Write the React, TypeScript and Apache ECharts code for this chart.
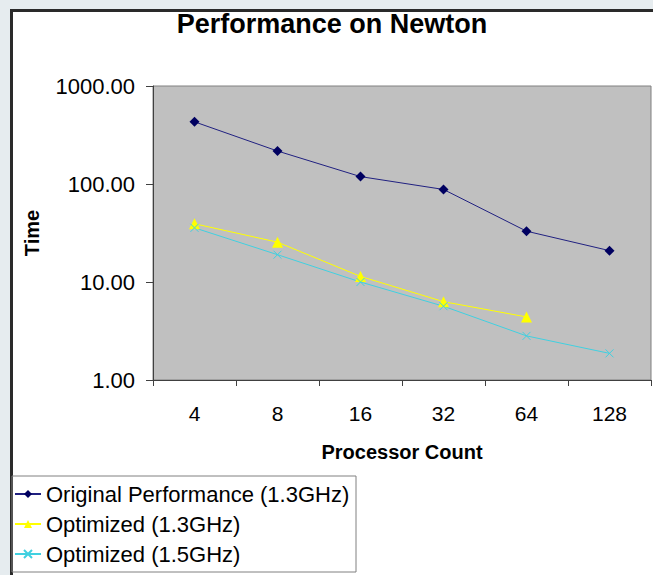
import React, { useEffect, useRef } from "react";
import * as echarts from "echarts";

const categories = ["4", "8", "16", "32", "64", "128"];
const originalPerf = [431, 217, 119, 88, 33, 20.9];
const optimized13 = [39.3, 25.5, 11.4, 6.3, 4.4, null];
const optimized15 = [35.7, 19.0, 10.0, 5.66, 2.82, 1.87];
const seriesNames = [
  "Original Performance (1.3GHz)",
  "Optimized (1.3GHz)",
  "Optimized (1.5GHz)",
];

const FONT = "'Liberation Sans', Arial, sans-serif";

export default function App() {
  const ref = useRef<HTMLDivElement>(null);
  useEffect(() => {
    if (!ref.current) return;
    const chart = echarts.init(ref.current, null, { renderer: "svg" });
    chart.setOption({
      animation: false,
      backgroundColor: "transparent",
      textStyle: { fontFamily: FONT },
      title: {
        text: "Performance on Newton",
        left: 332,
        top: 10,
        textAlign: "center",
        padding: 0,
        textStyle: { fontFamily: FONT, fontSize: 27, fontWeight: "bold", color: "#000" },
      },
      grid: {
        left: 153,
        right: 2,
        top: 86,
        bottom: 195,
        show: true,
        backgroundColor: "#c0c0c0",
        borderColor: "#808080",
        borderWidth: 1,
      },
      xAxis: {
        type: "category",
        data: categories,
        boundaryGap: true,
        name: "Processor Count",
        nameLocation: "middle",
        nameGap: 62,
        nameTextStyle: { fontFamily: FONT, fontSize: 20, fontWeight: "bold", color: "#000" },
        axisLine: { lineStyle: { color: "#404040", width: 1 } },
        axisTick: { show: true, length: 6, alignWithLabel: false, lineStyle: { color: "#404040" } },
        axisLabel: { fontFamily: FONT, fontSize: 21, color: "#000", margin: 23 },
        splitLine: { show: false },
      },
      yAxis: {
        type: "log",
        logBase: 10,
        min: 1,
        max: 1000,
        name: "Time",
        nameLocation: "middle",
        nameGap: 111,
        nameRotate: 90,
        nameTextStyle: { fontFamily: FONT, fontSize: 20, fontWeight: "bold", color: "#000" },
        axisLine: { show: true, lineStyle: { color: "#404040", width: 1 } },
        axisTick: { show: true, length: 7, lineStyle: { color: "#404040" } },
        minorTick: { show: false },
        axisLabel: {
          fontFamily: FONT,
          fontSize: 22,
          color: "#000",
          margin: 18,
          formatter: (v: number) => v.toFixed(2),
        },
        splitLine: { show: false },
      },
      legend: {
        orient: "vertical",
        left: 14,
        top: 482,
        padding: 0,
        itemGap: 6,
        itemWidth: 26,
        itemHeight: 10,
        textStyle: { fontFamily: FONT, fontSize: 22, color: "#000", lineHeight: 24 },
        data: seriesNames,
      },
      graphic: [
        {
          type: "rect",
          shape: { x: 12, y: 476, width: 344, height: 96 },
          style: { fill: "none", stroke: "#808080", lineWidth: 1 },
          z: -1,
        },
      ],
      series: [
        {
          name: seriesNames[0],
          type: "line",
          data: originalPerf,
          symbol: "diamond",
          symbolSize: 10,
          color: "#000080",
          lineStyle: { color: "#202080", width: 1 },
          itemStyle: { color: "#000060" },
        },
        {
          name: seriesNames[1],
          type: "line",
          data: optimized13,
          symbol: "triangle",
          symbolSize: 11,
          color: "#ffff00",
          lineStyle: { color: "#ffff00", width: 1 },
          itemStyle: { color: "#ffff00" },
        },
        {
          name: seriesNames[2],
          type: "line",
          data: optimized15,
          symbol: "path://M0,0L10,10M10,0L0,10",
          symbolSize: 8,
          color: "#40d0e0",
          lineStyle: { color: "#40d0e0", width: 1 },
          itemStyle: { color: "none", borderColor: "#40d0e0", borderWidth: 1 },
        },
      ],
    });
    return () => chart.dispose();
  }, []);

  return (
    <div
      style={{
        position: "fixed",
        left: 0,
        top: 0,
        width: 653,
        height: 575,
        background: "#e6ecef",
        overflow: "hidden",
      }}
    >
      <div
        style={{
          position: "absolute",
          left: 10,
          top: 9,
          width: 660,
          height: 600,
          background: "#fff",
          borderLeft: "3px solid #2a2a2a",
          borderTop: "3px solid #2a2a2a",
        }}
      />
      <div
        ref={ref}
        style={{ position: "absolute", left: 0, top: 0, width: 653, height: 575 }}
      />
    </div>
  );
}
